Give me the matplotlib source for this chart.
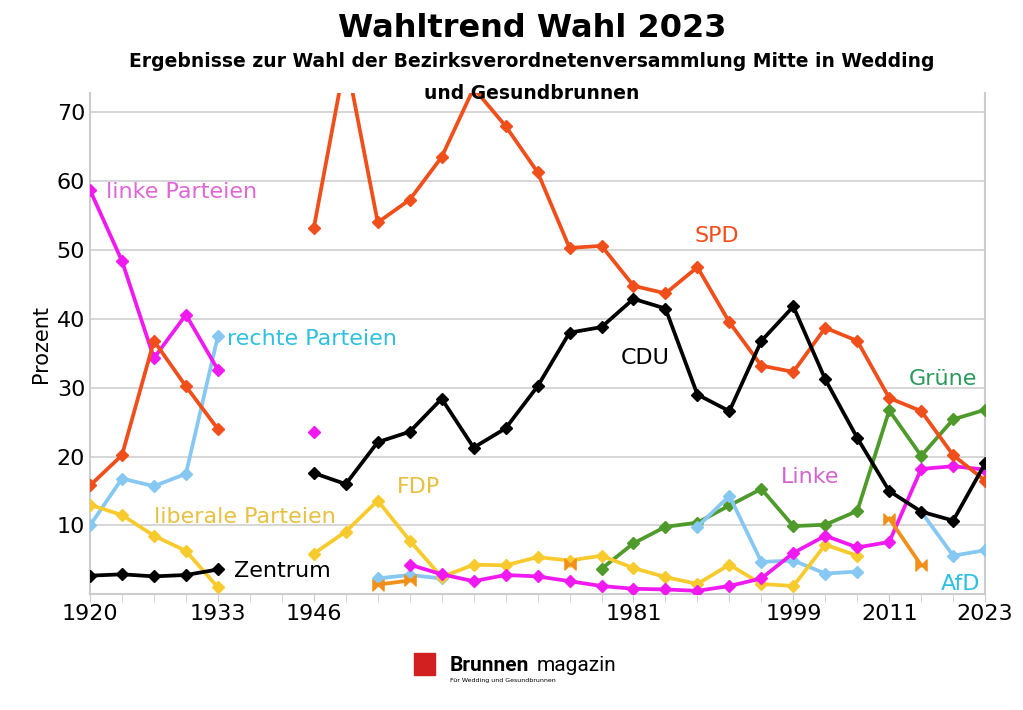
import matplotlib
matplotlib.use("Agg")
import matplotlib.pyplot as plt
import numpy as np
from matplotlib.path import Path

N = 29
tick_idx = [0, 4, 7, 17, 22, 25, 28]
tick_labels = ["1920", "1933", "1946", "1981", "1999", "2011", "2023"]

# (start index, values)
spd = [(0, [15.8, 20.2, 36.8, 30.2, 24.0]),
       (7, [53.2, 78, 54.0, 57.3, 63.5, 73.5, 68.0, 61.3, 50.3, 50.6, 44.8, 43.7, 47.5,
            39.5, 33.2, 32.3, 38.7, 36.8, 28.5, 26.6, 20.2, 16.5])]
links = [(0, [58.7, 48.4, 34.3, 40.6, 32.6]), (7, [23.5]),
         (10, [4.3, 2.9, 1.9, 2.8, 2.6, 1.9, 1.2, 0.8, 0.7, 0.5, 1.2, 2.3, 6.0, 8.5, 6.8, 7.6, 18.2, 18.6, 18.1])]
rechts = [(0, [10.0, 16.8, 15.7, 17.5, 37.5]), (9, [2.3, 2.8, 2.3]),
          (19, [9.8, 14.3, 4.7, 4.9, 3.0, 3.3]), (26, [12.0, 5.6, 6.4])]
liberal = [(0, [13.0, 11.5, 8.5, 6.3, 1.0]),
           (7, [5.9, 9.1, 13.6, 7.8, 2.5, 4.3, 4.2, 5.4, 4.9, 5.6, 3.8, 2.5, 1.5, 4.3, 1.5, 1.2, 7.2, 5.6])]
zentrum_cdu = [(0, [2.7, 2.9, 2.6, 2.8, 3.6]),
               (7, [17.6, 16.0, 22.1, 23.6, 28.4, 21.3, 24.1, 30.2, 38.0, 38.8, 42.9, 41.5, 29.0,
                    26.6, 36.8, 41.8, 31.2, 22.7, 15.0, 12.0, 10.7, 19.0])]
gruene = [(16, [3.7, 7.4, 9.8, 10.4, 12.9, 15.3, 9.9, 10.1, 12.1, 26.7, 20.1, 25.4, 26.8])]
sonst = [(9, [1.4, 2.0]), (15, [4.4]), (25, [11.0, 4.2])]

series = [
    (gruene, "#4E9A2A", "D"),
    (rechts, "#86C8F2", "D"),
    (liberal, "#F7CB2D", "D"),
    (links, "#F01AF0", "D"),
    (spd, "#F04E1A", "D"),
    (zentrum_cdu, "#000000", "D"),
]
bowtie = Path([(-1, -1), (1, 1), (1, -1), (-1, 1), (-1, -1)],
              [Path.MOVETO, Path.LINETO, Path.LINETO, Path.LINETO, Path.CLOSEPOLY])

fig = plt.figure(figsize=(10.23, 7.10), dpi=100)
ax = fig.add_axes([0.088, 0.163, 0.875, 0.706])
for segs, col, mk in series:
    for s, vals in segs:
        x = np.arange(s, s + len(vals))
        ax.plot(x, vals, color=col, lw=2.7, marker=mk, ms=6, zorder=3)
for s, vals in sonst:
    x = np.arange(s, s + len(vals))
    ax.plot(x, vals, color="#F0901A", lw=2.7, marker=bowtie, ms=8, zorder=3)

ax.set_xlim(0, 28)
ax.set_ylim(0, 72.8)
ax.set_yticks([10, 20, 30, 40, 50, 60, 70])
ax.set_xticks(tick_idx)
ax.set_xticklabels(tick_labels)
ax.set_xticks(range(N), minor=True)
ax.tick_params(axis="both", labelsize=16, length=0)
ax.tick_params(axis="x", which="both", length=6, color="#cccccc", direction="out", pad=1)
ax.grid(axis="y", color="#d0d0d0", lw=1.2)
ax.spines["top"].set_visible(False)
for sp in ["left", "right", "bottom"]:
    ax.spines[sp].set_color("#cccccc")
    ax.spines[sp].set_linewidth(1.5)
ax.set_ylabel("Prozent", fontsize=15)

lab = dict(fontsize=16, zorder=4)
ax.text(0.5, 57.5, "linke Parteien", color="#E066D6", **lab)
ax.text(4.3, 36.2, "rechte Parteien", color="#2EC0E0", **lab)
ax.text(2.0, 10.3, "liberale Parteien", color="#E8C040", **lab)
ax.text(4.5, 2.5, "Zentrum", color="black", **lab)
ax.text(9.6, 14.7, "FDP", color="#E8C040", **lab)
ax.text(18.9, 51.2, "SPD", color="#F04E1A", **lab)
ax.text(16.6, 33.5, "CDU", color="black", **lab)
ax.text(25.6, 30.4, "Grüne", color="#2A9A5A", **lab)
ax.text(21.6, 16.2, "Linke", color="#D066D0", **lab)
ax.text(26.6, 0.6, "AfD", color="#2EC0E0", **lab)

fig.text(0.52, 0.948, "Wahltrend Wahl 2023", ha="center", fontsize=23, fontweight="bold")
fig.text(0.52, 0.905, "Ergebnisse zur Wahl der Bezirksverordnetenversammlung Mitte in Wedding",
         ha="center", fontsize=13.5, fontweight="bold")
fig.text(0.52, 0.86, "und Gesundbrunnen", ha="center", fontsize=13.5, fontweight="bold")

# logo
fig.patches.append(plt.Rectangle((0.405, 0.05), 0.02, 0.03, transform=fig.transFigure,
                                 color="#D22020", figure=fig))
fig.text(0.44, 0.055, "Brunnen", fontsize=15, fontweight="bold", family="Roboto")
fig.text(0.525, 0.055, "magazin", fontsize=15, family="Roboto")
fig.text(0.44, 0.04, "Für Wedding und Gesundbrunnen", fontsize=4.5)

fig.savefig("out.png", dpi=100, facecolor="white")
